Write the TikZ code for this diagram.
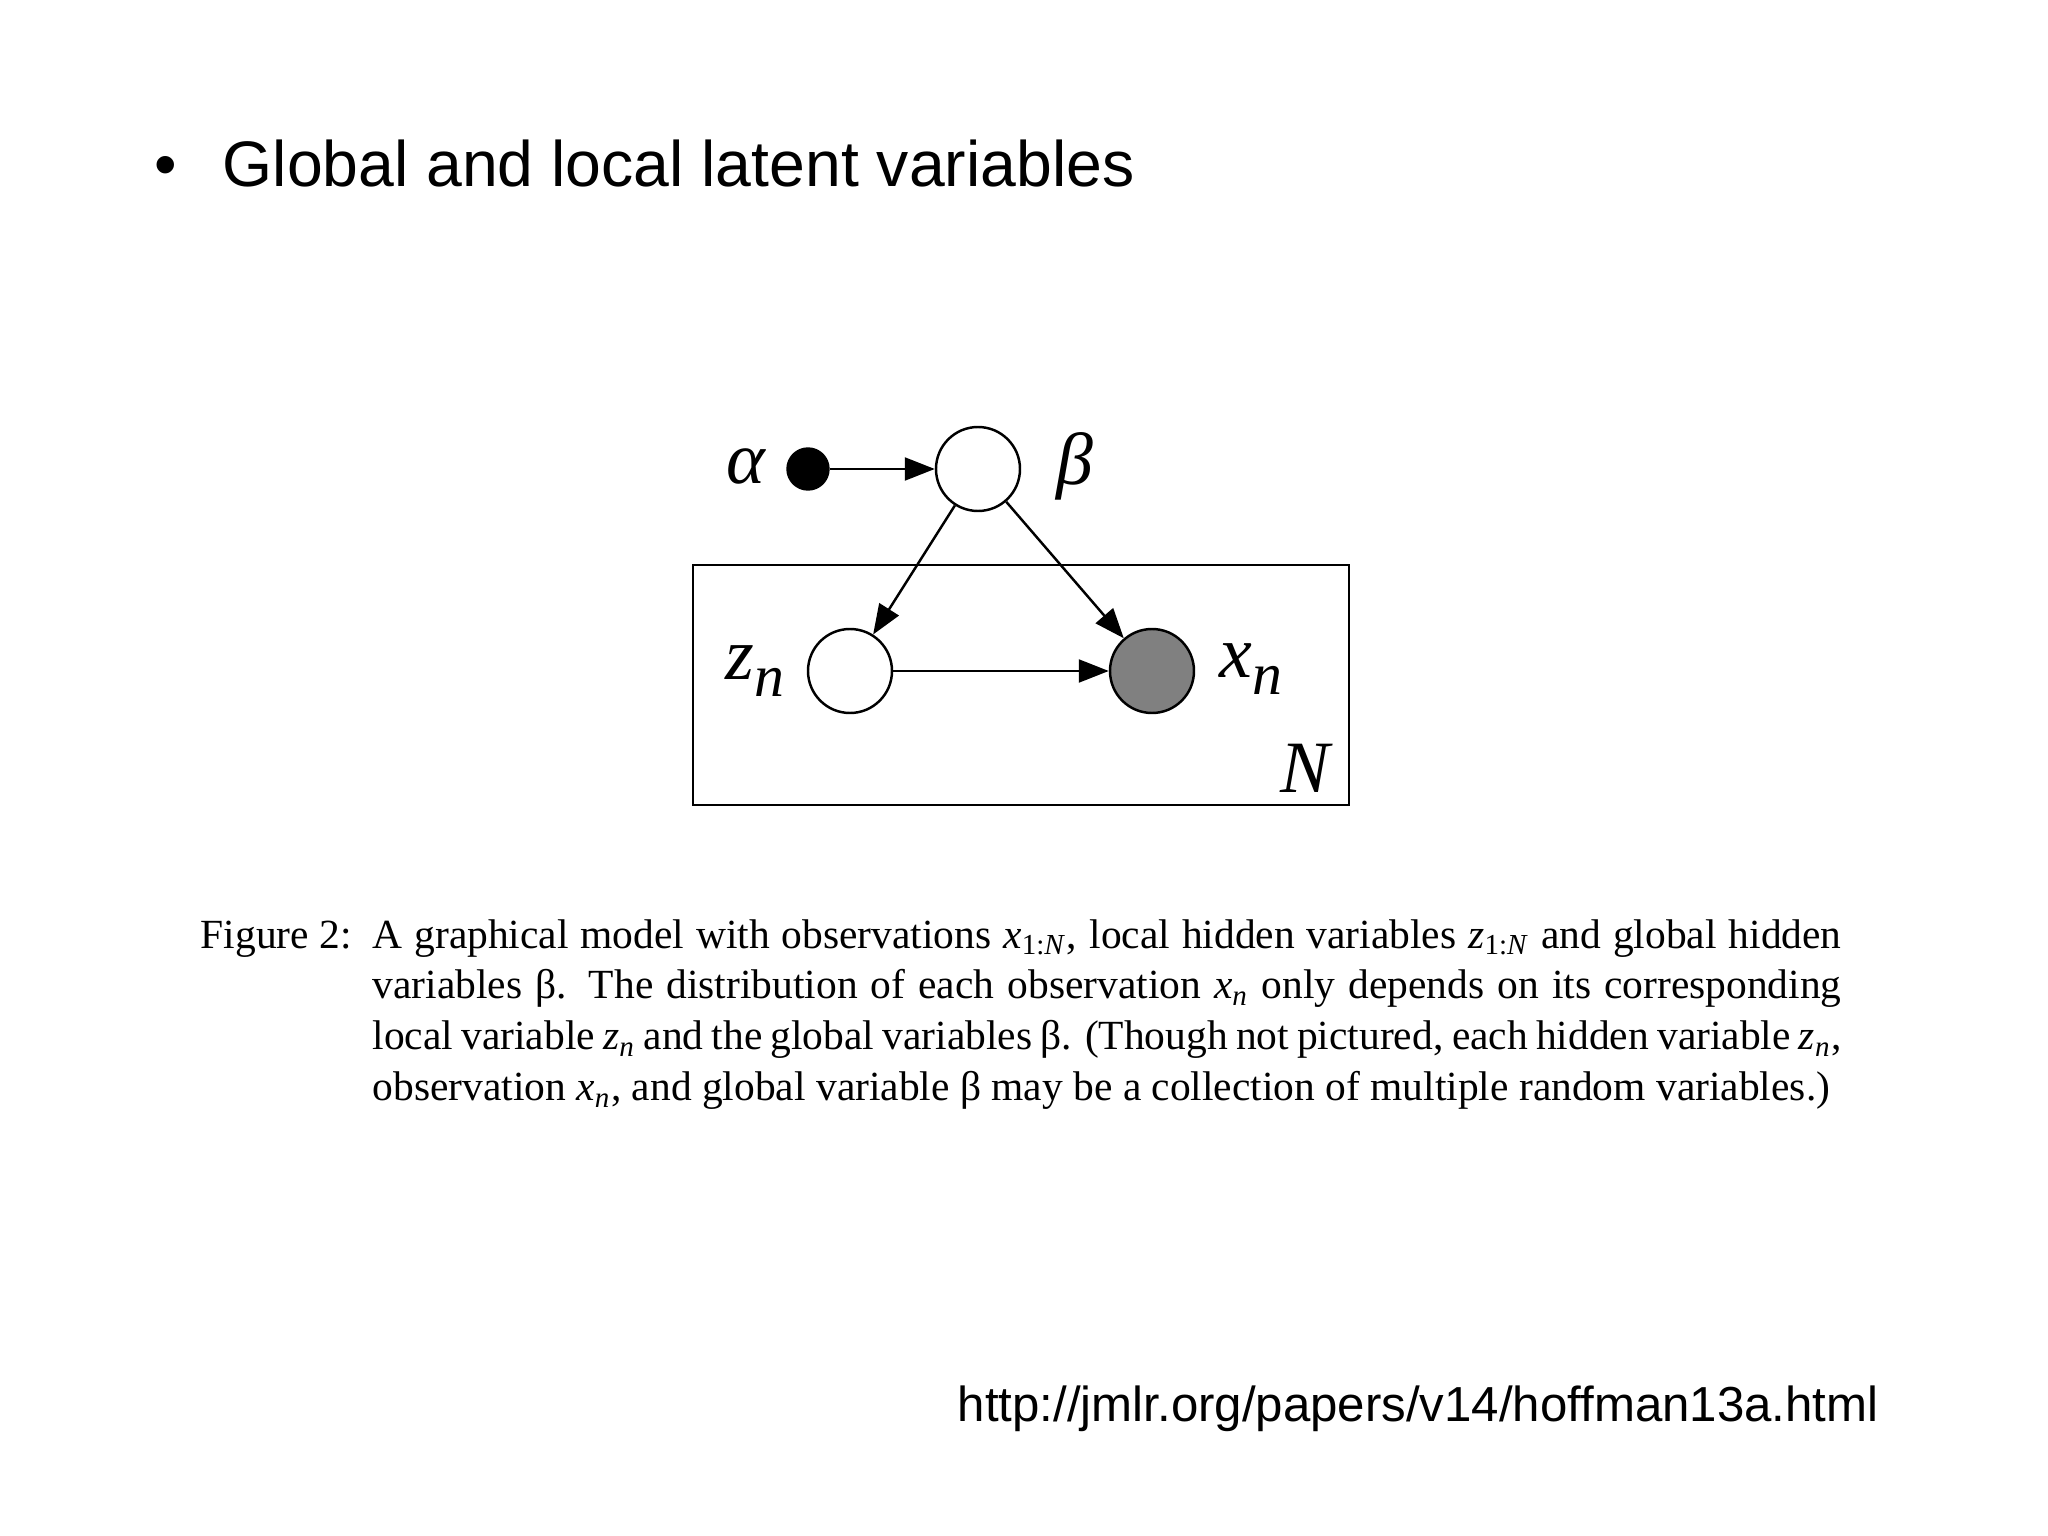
\documentclass[tikz,border=0pt]{standalone}
\usepackage{fontspec}
\setmainfont{Liberation Serif}
\newfontfamily\slidefont{Liberation Sans}
\usetikzlibrary{arrows.meta}
\definecolor{obsgray}{RGB}{128,128,128}
\newcommand{\subvar}[2]{\textit{#1}\textsubscript{#2}}
\begin{document}
\begin{tikzpicture}[
  latent/.style={shape=circle, draw=black, line width=0.7pt, minimum size=0.84cm, inner sep=0pt},
  varlabel/.style={font=\fontsize{21}{21}\selectfont\itshape},
  link/.style={-{Triangle[length=8.5pt,width=6.5pt]}, line width=0.7pt, draw=black}]
\useasboundingbox (0,0) rectangle (20.48,-15.36);
% slide heading
\node[anchor=base, font=\fontsize{18.3}{22}\selectfont\slidefont] (bullet) at (1.66,-1.87) {•};
\node[anchor=base west, font=\fontsize{18.3}{22}\selectfont\slidefont, inner sep=0pt] (title) at (2.22,-1.87) {Global and local latent variables};
% plate
\node[draw=black, line width=0.7pt, minimum width=6.56cm, minimum height=2.40cm] (plate) at (10.21,-6.85) {};
\node[varlabel] (N) at (13.05,-7.68) {N};
% graphical model
\node[shape=circle, fill=black, draw=black, minimum size=0.42cm, inner sep=0pt] (alpha) at (8.08,-4.69) {};
\node[latent, fill=white] (beta) at (9.78,-4.69) {};
\node[latent, fill=white] (z) at (8.50,-6.71) {};
\node[latent, fill=obsgray] (x) at (11.52,-6.71) {};
\node[varlabel] (alphalab) at (7.46,-4.66) {α};
\node[varlabel] (betalab) at (10.75,-4.66) {β};
\node[varlabel] (zlab) at (7.55,-6.71) {z\raisebox{-0.22em}{\fontsize{17}{17}\selectfont n}};
\node[varlabel] (xlab) at (12.51,-6.69) {x\raisebox{-0.22em}{\fontsize{17}{17}\selectfont n}};
\path [link] (alpha) edge (beta);
\path [link] (beta) edge (z);
\path [link] (beta) edge (x);
\path [link] (z) edge (x);
% caption
\node[anchor=base west, inner sep=0pt, font=\fontsize{11.8}{14.5}\selectfont] (fignum) at (2.00,-9.48) {Figure 2:};
\node[anchor=base west, inner sep=0pt, text width=14.69cm, align=justify, font=\fontsize{11.8}{14.5}\selectfont] (caption) at (3.72,-9.48) {A graphical model with observations \subvar{x}{1:\textit{N}}, local hidden variables \subvar{z}{1:\textit{N}} and global hidden\linebreak
variables β. The distribution of each observation \subvar{x}{\textit{n}} only depends on its corresponding\linebreak
local variable \subvar{z}{\textit{n}} and the global variables β. (Though not pictured, each hidden variable \subvar{z}{\textit{n}},\linebreak
observation \subvar{x}{\textit{n}}, and global variable β may be a collection of multiple random variables.)};
% source
\node[anchor=base west, inner sep=0pt, font=\fontsize{14}{17}\selectfont\slidefont] (source) at (9.57,-14.21) {http://jmlr.org/papers/v14/hoffman13a.html};
\end{tikzpicture}
\end{document}
